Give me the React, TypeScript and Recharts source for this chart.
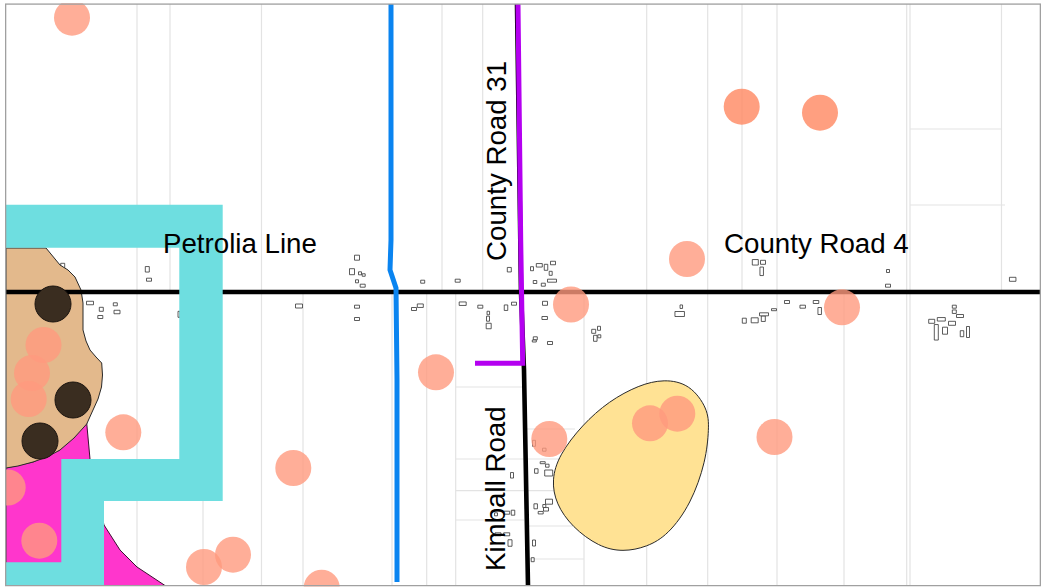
import { ScatterChart, Scatter, XAxis, YAxis } from "recharts";

type Pair = [number, number];

const frame: Pair[] = [[5.6, 4], [1040.4, 4], [1040.4, 585.7], [5.6, 585.7]];

const parcelLines: Pair[][] = [
  [[137, 4], [137, 585]],
  [[170, 4], [170, 292]],
  [[203, 470], [203, 585]],
  [[261.5, 4], [261.5, 585]],
  [[303, 292], [303, 585]],
  [[392, 292], [392, 585]],
  [[426.7, 292], [426.7, 585]],
  [[442, 4], [442, 292]],
  [[455.7, 292], [455.7, 585]],
  [[482.7, 4], [482.7, 292]],
  [[584, 292], [584, 585]],
  [[646.7, 4], [646.7, 585]],
  [[707.7, 4], [707.7, 585]],
  [[742, 4], [742, 292]],
  [[777, 4], [777, 585]],
  [[844, 292], [844, 585]],
  [[906.7, 4], [906.7, 585]],
  [[910, 4], [910, 585]],
  [[1001.5, 4], [1001.5, 292]],
  [[910, 129], [1001, 129]],
  [[910, 205], [1005, 205]],
  [[456, 387], [524, 387]],
  [[525, 429], [575, 429]],
  [[456, 459], [584, 459]],
  [[456, 490.7], [584, 490.7]],
  [[456, 520], [524, 520]],
  [[527, 526], [584, 526]],
  [[528, 559], [584, 559]],
];

const magentaZone: Pair[] = [
  [6, 468], [33, 462], [60, 450], [86.7, 423], [90, 459], [93, 480], [104, 525],
  [120, 550], [137, 567], [165, 585.5], [6, 585.5],
];

const tanZone: Pair[] = [
  [6, 248], [46, 248], [60, 265], [68, 270], [75, 277], [81, 290], [83, 303], [83, 330], [86, 341],
  [90, 350], [96, 357], [101.7, 363], [102.5, 375], [101.5, 387], [98, 399], [93, 410], [86.7, 424],
  [74, 438], [60, 450], [47, 457], [33, 462], [18, 466], [6, 468],
];

const yellowZone: Pair[] = [
  [664, 379], [690, 384], [708, 409], [709, 428], [706, 461], [691, 504], [668, 535],
  [647, 547], [623, 552], [599, 547], [572, 527], [556, 504], [551.5, 480], [559, 455],
  [582, 425], [609, 401], [639, 385],
];

// centre east, centre south, width, height
const buildings: number[][] = [
  [357, 257.7, 5, 5], [352, 271.7, 5, 6], [360, 273.3, 3, 3], [363.7, 275, 3, 2.5], [357, 281.3, 3, 3],
  [362.7, 285.7, 5, 3], [422.7, 281.7, 4, 3], [457.7, 280.7, 5, 3], [509.3, 269.7, 4, 4.5], [532, 268.7, 3, 4],
  [539.3, 265.3, 6, 3.5], [546, 267.3, 3.5, 6], [553, 263, 5, 3.5], [550.7, 273.3, 3, 4], [535, 282, 3.5, 3],
  [543.3, 284.7, 4, 3], [552, 280.7, 9, 3], [357, 306.7, 5, 3], [357, 319, 5, 3], [414, 309, 5, 3],
  [420.3, 305.7, 6, 3.5], [462.7, 303.7, 7, 3.5], [480.3, 306.7, 5, 3], [488.3, 313, 2.5, 3.5], [488, 318.7, 3, 5],
  [488.7, 326, 5, 5.5], [506, 307.7, 3.5, 5.5], [514, 303.7, 5, 3], [545, 303.3, 5, 4], [544.7, 318, 5.5, 3],
  [535.3, 338.3, 4, 3], [534.3, 341, 4, 2], [550, 343, 5, 3], [593.7, 331.3, 4, 4], [599, 328.3, 3, 4],
  [599.3, 336.3, 3, 3], [595.3, 338.3, 3.5, 6], [62.7, 266.3, 4, 6], [147.3, 269.3, 4, 5.5], [149, 279.7, 5, 3],
  [18.7, 299, 3.5, 3], [63.3, 303, 4, 3], [62.3, 317, 5, 3], [90, 303, 7, 3.5], [101.3, 309.3, 4, 4],
  [100.3, 317, 5, 3], [115.3, 304.3, 4, 3], [117, 312, 6, 3.5], [179, 314.3, 2, 6], [299, 306, 7, 4],
  [534, 443.3, 3, 6], [544.3, 449.7, 3.5, 3], [542.7, 462.7, 5, 2], [547.3, 465.7, 3.5, 3], [536.3, 471, 3.5, 4.5],
  [548.7, 473, 8, 6], [512, 475.3, 3, 5.5], [535.7, 506.3, 3.5, 5], [549, 501.7, 7, 5], [544.3, 506, 3, 3],
  [546, 509.3, 5, 3.5], [540.7, 512.7, 5, 2.5], [506.7, 512.7, 6, 3], [513, 512.7, 3.5, 5], [496, 514.3, 3, 3],
  [506.7, 534.3, 6, 3], [498, 534.3, 6, 3], [510, 543, 4, 6.5], [534, 543, 3, 6], [532.7, 559.7, 3, 4],
  [755.3, 262.3, 6, 5.5], [763, 262.3, 5, 4], [761.7, 271.3, 3.5, 8.5], [888, 271, 3, 3], [888, 285.7, 5, 3],
  [1012.7, 279.3, 6.5, 4], [681.3, 306.7, 2.5, 3.5], [679.7, 314, 9.5, 5], [744.3, 320.7, 4, 5], [754.7, 320.3, 7, 5],
  [763.3, 318.7, 4, 5.5], [764, 314.3, 9, 3], [774, 309.7, 5, 2], [787, 302, 5, 3], [802.7, 306.7, 5.5, 3],
  [816, 302, 5.5, 3], [819.7, 311, 3.5, 7], [954.3, 306.7, 4, 3], [954.3, 311.7, 4, 3.5], [960, 316, 7, 3],
  [931.7, 321.3, 6, 4], [941.3, 319.3, 8, 3.5], [952, 323.3, 7, 4], [945, 330.7, 5, 7], [936.3, 332.3, 4, 15.5],
  [962, 333.7, 3.5, 6], [968, 332, 3, 11],
];

const county4Road: Pair[] = [[5, 292], [1041, 292]];
const kimballRoad: Pair[] = [[517, 4], [521, 292], [524, 370], [528, 586]];
const blueRoute: Pair[] = [[391, 4], [391, 240], [390, 270], [396, 288], [397, 380], [397, 582]];
const purpleRoute: Pair[] = [[518, 4], [520.7, 240], [522.7, 363.3], [475, 363.3]];

const cyanRoute: Pair[] = [
  [5, 204.7], [222.7, 204.7], [222.7, 501], [104, 501], [104, 586], [5, 586], [5, 562.3],
  [61.3, 562.3], [61.3, 459], [179.3, 459], [179.3, 247.7], [5, 247.7],
];

const darkSites: Pair[] = [[53, 304], [73, 400], [40, 441]];

const salmonSites: Pair[] = [
  [72, 17.7], [687, 259], [571, 304.5], [842, 307.3], [436, 372.3], [43.5, 345], [32, 373], [28.7, 399],
  [123.3, 432.3], [293.3, 468], [7.7, 487.5], [39.3, 540.7], [204, 567], [233, 554.7], [321.7, 587.7],
  [549.3, 439], [650, 423.3], [677.3, 413.7], [774.5, 437],
];
const strongSites: Pair[] = [[741.7, 106.7], [820, 112.7]];

const roadNames = ["Petrolia Line", "County Road 4"];
const roadNameAnchors: Pair[] = [[163, 252.7], [724, 252.7]];
const sideRoadNames = ["County Road 31", "Kimball Road"];
const sideRoadAnchors: Pair[] = [[505.6, 261], [505, 571]];

const toPoints = (pts: Pair[]) => pts.map(([x, y]) => ({ x, y }));
const noDot = () => <g />;

const outline = (
  key: string,
  pts: Pair[],
  style: Record<string, unknown>,
  joint: string = "linear",
) => (
  <Scatter
    key={key}
    data={toPoints(pts)}
    isAnimationActive={false}
    shape={noDot}
    line={{ fill: "none", ...style }}
    lineType="joint"
    lineJointType={joint as "linear"}
  />
);

const site = (fill: string, opacity: number, stroke = "none") => (props: any) => (
  <circle cx={props.cx} cy={props.cy} r={18} fill={fill} fillOpacity={opacity} stroke={stroke} />
);

const horizontalLabel = (props: any) => (
  <text x={props.cx} y={props.cy} fontFamily="Liberation Sans" fontSize={27.7} fill="#000">
    {props.payload.name}
  </text>
);

const sideLabel = (props: any) => (
  <text
    x={props.cx}
    y={props.cy}
    transform={`rotate(-90 ${props.cx} ${props.cy})`}
    fontFamily="Liberation Sans"
    fontSize={27.7}
    fill="#000"
  >
    {props.payload.name}
  </text>
);

export default function App() {
  return (
    <div style={{ position: "fixed", left: 0, top: 0, width: 1042, height: 587, background: "#fff" }}>
      <ScatterChart width={1042} height={587} margin={{ top: 3.3, right: 1, bottom: 0.5, left: 5 }}>
        <XAxis type="number" dataKey="x" domain={[5, 1041]} allowDataOverflow hide />
        <YAxis type="number" dataKey="y" domain={[3.3, 586.5]} reversed allowDataOverflow hide />

        {parcelLines.map((seg, i) => outline(`parcel-${i}`, seg, { stroke: "#e3e3e3", strokeWidth: 1.2 }))}

        {buildings.map(([x, y, w, h], i) =>
          outline(
            `building-${i}`,
            [[x - w / 2, y - h / 2], [x + w / 2, y - h / 2], [x + w / 2, y + h / 2], [x - w / 2, y + h / 2]],
            { stroke: "#333", strokeWidth: 0.8, fill: "#fff" },
            "linearClosed",
          ),
        )}

        {outline("magenta", magentaZone, { fill: "#ff36cc", stroke: "#3a1030", strokeWidth: 1 }, "linearClosed")}
        {outline("tan", tanZone, { fill: "#e3b98c", stroke: "#2a2a2a", strokeWidth: 1 }, "linearClosed")}
        {outline("yellow", yellowZone, { fill: "#ffe294", stroke: "#2a2a2a", strokeWidth: 1 }, "basisClosed")}

        {outline("county4", county4Road, { stroke: "#000", strokeWidth: 4.6 })}
        {outline("kimball", kimballRoad, { stroke: "#000", strokeWidth: 4.6 })}
        {outline("blue", blueRoute, { stroke: "#0a84f0", strokeWidth: 5 })}
        {outline("purple", purpleRoute, { stroke: "#b400f0", strokeWidth: 5 })}

        <Scatter data={toPoints(darkSites)} shape={site("#3a2d20", 1, "#1c1510")} isAnimationActive={false} />

        {outline("cyan", cyanRoute, { fill: "#6edee0" }, "linearClosed")}

        <Scatter data={toPoints(salmonSites)} shape={site("#ff9a7e", 0.8)} isAnimationActive={false} />
        <Scatter data={toPoints(strongSites)} shape={site("#ff8760", 0.8)} isAnimationActive={false} />

        {outline("frame", frame, { stroke: "#a0a0a0", strokeWidth: 1.4 }, "linearClosed")}

        <Scatter
          data={roadNames.map((name, i) => ({ name, x: roadNameAnchors[i][0], y: roadNameAnchors[i][1] }))}
          shape={horizontalLabel}
          isAnimationActive={false}
        />
        <Scatter
          data={sideRoadNames.map((name, i) => ({ name, x: sideRoadAnchors[i][0], y: sideRoadAnchors[i][1] }))}
          shape={sideLabel}
          isAnimationActive={false}
        />
      </ScatterChart>
    </div>
  );
}
